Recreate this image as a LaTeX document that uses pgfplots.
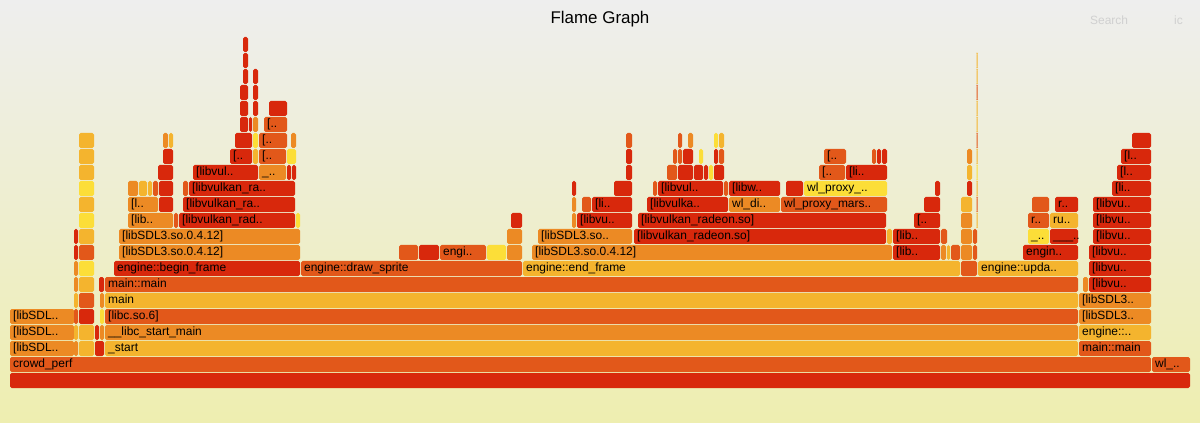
\documentclass[border=0pt]{standalone}
\usepackage{fontspec}
\setmainfont{Liberation Sans}
\usepackage{pgfplots}
\usepackage{pgfplotstable}
\pgfplotsset{compat=1.18}
\pgfdeclareplotmark{nothing}{}
\protected\def\us{\textunderscore}
\definecolor{fc1}{RGB}{216,40,12}
\definecolor{fc2}{RGB}{226,88,26}
\definecolor{fc3}{RGB}{236,138,36}
\definecolor{fc4}{RGB}{244,180,46}
\definecolor{fc5}{RGB}{252,222,56}
\definecolor{bgtop}{RGB}{238,238,238}
\definecolor{bgbot}{RGB}{238,238,176}
\definecolor{searchgray}{RGB}{208,208,208}

\pgfplotstableread[col sep=comma]{
x1,x2,lvl,col,lab
10,1190,0,1,{}
10,1151,1,2,crowd\us perf
1152,1190,1,2,wl\us ..
10,74,2,3,[libSDL..
74,78,2,3,{}
79,94,2,4,{}
95,104,2,1,{}
105,1078,2,4,\us start
1079,1151,2,2,main::main
10,74,3,3,[libSDL..
74,78,3,4,{}
79,94,3,4,{}
95,99,3,1,{}
100,104,3,3,{}
105,1078,3,3,\us\us libc\us start\us main
1079,1151,3,4,engine::..
10,74,4,3,[libSDL..
74,78,4,2,{}
79,94,4,1,{}
100,104,4,5,{}
105,1078,4,2,[libc.so.6]
1079,1151,4,3,[libSDL3..
74,78,5,4,{}
79,94,5,2,{}
100,104,5,3,{}
105,1078,5,4,main
1079,1151,5,3,[libSDL3..
74,78,6,3,{}
79,94,6,4,{}
99,104,6,1,{}
105,1078,6,2,main::main
1083,1088,6,3,{}
1089,1151,6,1,[libvu..
74,78,7,3,{}
79,94,7,5,{}
114,300,7,1,engine::begin\us frame
301,522,7,2,engine::draw\us sprite
523,960,7,4,engine::end\us frame
961,977,7,2,{}
978,1078,7,4,engine::upda..
1089,1151,7,1,[libvu..
74,78,8,1,{}
79,94,8,2,{}
119,300,8,3,[libSDL3.so.0.4.12]
399,418,8,2,{}
419,439,8,1,{}
440,486,8,2,engi..
487,506,8,5,{}
507,522,8,3,{}
532,892,8,3,[libSDL3.so.0.4.12]
893,940,8,1,[lib..
941,946,8,3,{}
947,950,8,4,{}
951,960,8,2,{}
961,972,8,3,{}
973,977,8,2,{}
1023,1078,8,1,engin..
1089,1151,8,1,[libvu..
74,78,9,1,{}
79,94,9,4,{}
119,300,9,3,[libSDL3.so.0.4.12]
507,522,9,3,{}
538,632,9,3,[libSDL3.so..
634,886,9,1,[libvulkan\us radeon.so]
887,892,9,4,{}
893,940,9,1,[lib..
941,947,9,2,{}
961,972,9,3,{}
973,977,9,2,{}
1028,1049,9,5,\us ..
1050,1078,9,1,\us\us\us ..
1093,1151,9,1,[libvu..
79,94,10,5,{}
128,173,10,3,[lib..
174,178,10,2,{}
179,295,10,1,[libvulkan\us rad..
296,300,10,5,{}
511,522,10,1,{}
572,576,10,3,{}
577,632,10,1,[libvu..
638,886,10,1,[libvulkan\us radeon.so]
914,940,10,1,[..
961,972,10,3,{}
1028,1049,10,2,r..
1050,1078,10,4,ru..
1093,1151,10,1,[libvu..
79,94,11,4,{}
128,158,11,3,[l..
159,173,11,1,{}
183,295,11,1,[libvulkan\us ra..
572,576,11,3,{}
582,591,11,2,{}
592,632,11,1,[li..
647,728,11,1,[libvulka..
729,780,11,3,wl\us di..
781,887,11,2,wl\us proxy\us mars..
924,940,11,1,{}
961,972,11,4,{}
1032,1049,11,2,{}
1055,1078,11,1,r..
1093,1151,11,1,[libvu..
79,94,12,5,{}
128,138,12,3,{}
139,147,12,4,{}
148,152,12,4,{}
153,158,12,2,{}
159,173,12,1,{}
183,188,12,2,{}
189,295,12,1,[libvulkan\us ra..
572,576,12,1,{}
614,632,12,1,{}
653,657,12,2,{}
658,723,12,1,[libvul..
724,728,12,2,{}
729,780,12,1,[libw..
786,803,12,1,{}
804,887,12,5,wl\us proxy\us ..
935,940,12,1,{}
967,972,12,1,{}
1112,1151,12,1,[li..
79,94,13,4,{}
158,173,13,1,{}
193,258,13,1,[libvul..
259,286,13,3,\us ..
287,291,13,1,{}
292,296,13,1,{}
626,632,13,1,{}
667,677,13,2,{}
678,693,13,1,{}
694,703,13,1,{}
704,708,13,1,{}
709,713,13,5,{}
714,724,13,1,{}
819,845,13,2,[..
846,887,13,1,[li..
967,972,13,4,{}
1117,1151,13,1,[l..
79,94,14,4,{}
163,173,14,1,{}
230,252,14,1,[..
253,258,14,4,{}
259,286,14,2,[..
287,296,14,5,{}
626,632,14,1,{}
673,677,14,2,{}
678,682,14,2,{}
683,693,14,1,{}
699,703,14,5,{}
714,718,14,1,{}
719,724,14,2,{}
824,846,14,2,[..
872,876,14,2,{}
877,881,14,1,{}
882,887,14,1,{}
967,972,14,3,{}
1121,1151,14,1,[l..
79,94,15,4,{}
163,168,15,3,{}
169,173,15,4,{}
235,252,15,1,{}
253,258,15,5,{}
259,287,15,2,[..
291,296,15,3,{}
626,632,15,2,{}
678,682,15,2,{}
688,693,15,3,{}
714,718,15,5,{}
719,724,15,4,{}
1132,1151,15,1,{}
240,248,16,1,{}
249,252,16,1,{}
253,258,16,3,{}
264,287,16,2,[..
240,248,17,1,{}
253,258,17,1,{}
269,287,17,1,{}
240,248,18,1,{}
253,258,18,1,{}
243,248,19,1,{}
253,258,19,1,{}
243,248,20,1,{}
243,248,21,1,{}
976.6,977.6,10,4,{}
976.6,977.6,11,2,{}
976.6,977.6,12,4,{}
976.6,977.6,13,5,{}
976.6,977.6,14,4,{}
976.6,977.6,15,2,{}
976.6,977.6,16,4,{}
976.6,977.6,17,4,{}
976.6,977.6,18,2,{}
976.6,977.6,19,4,{}
976.6,977.6,20,4,{}
}\frames
\pgfplotstablegetrowsof{\frames}
\pgfmathtruncatemacro\nlast{\pgfplotsretval-1}

\begin{document}
\begin{tikzpicture}
\begin{axis}[
  x=1bp, y=16bp,
  xmin=0, xmax=1200, ymin=-2.125, ymax=24.25,
  axis line style={draw=none},
  xtick=\empty, ytick=\empty,
  axis background/.style={top color=bgtop, bottom color=bgbot},
  title={Flame Graph},
  title style={at={(0.5,1)}, anchor=base, yshift=-29.5bp, inner sep=0pt,
    font=\fontsize{17}{20}\selectfont},
  framelabel/.style={only marks, mark=nothing,
    every node near coord/.style={anchor=base west, inner sep=0pt,
      xshift=3bp, yshift=4.5bp, text=black,
      font=\fontsize{12}{14}\selectfont}},
]
\pgfplotsforeachungrouped \i in {0,...,\nlast}{%
  \pgfplotstablegetelem{\i}{x1}\of\frames \let\fxa\pgfplotsretval
  \pgfplotstablegetelem{\i}{x2}\of\frames \let\fxb\pgfplotsretval
  \pgfplotstablegetelem{\i}{lvl}\of\frames \let\flv\pgfplotsretval
  \pgfplotstablegetelem{\i}{col}\of\frames \let\fcol\pgfplotsretval
  \pgfplotstablegetelem{\i}{lab}\of\frames \let\flab\pgfplotsretval
  \pgfmathsetmacro\fyt{\flv+0.9375}%
  \edef\cmd{\noexpand\addplot[fill=fc\fcol, draw=none, rounded corners=1.6bp]
     coordinates {(\fxa,\flv) (\fxb,\flv) (\fxb,\fyt) (\fxa,\fyt)} -- cycle;}%
  \cmd
  \if\relax\detokenize\expandafter{\flab}\relax\else
    \edef\cmd{\noexpand\addplot[framelabel,
       nodes near coords={\unexpanded\expandafter{\flab}}]
       coordinates {(\fxa,\flv)};}%
    \cmd
  \fi
}
\node[anchor=base west, inner sep=0pt, text=searchgray,
  font=\fontsize{12}{14}\selectfont] at (axis cs:1090,22.7) {Search};
\node[anchor=base west, inner sep=0pt, text=searchgray,
  font=\fontsize{12}{14}\selectfont] at (axis cs:1174,22.7) {ic};
\end{axis}
\end{tikzpicture}
\end{document}
